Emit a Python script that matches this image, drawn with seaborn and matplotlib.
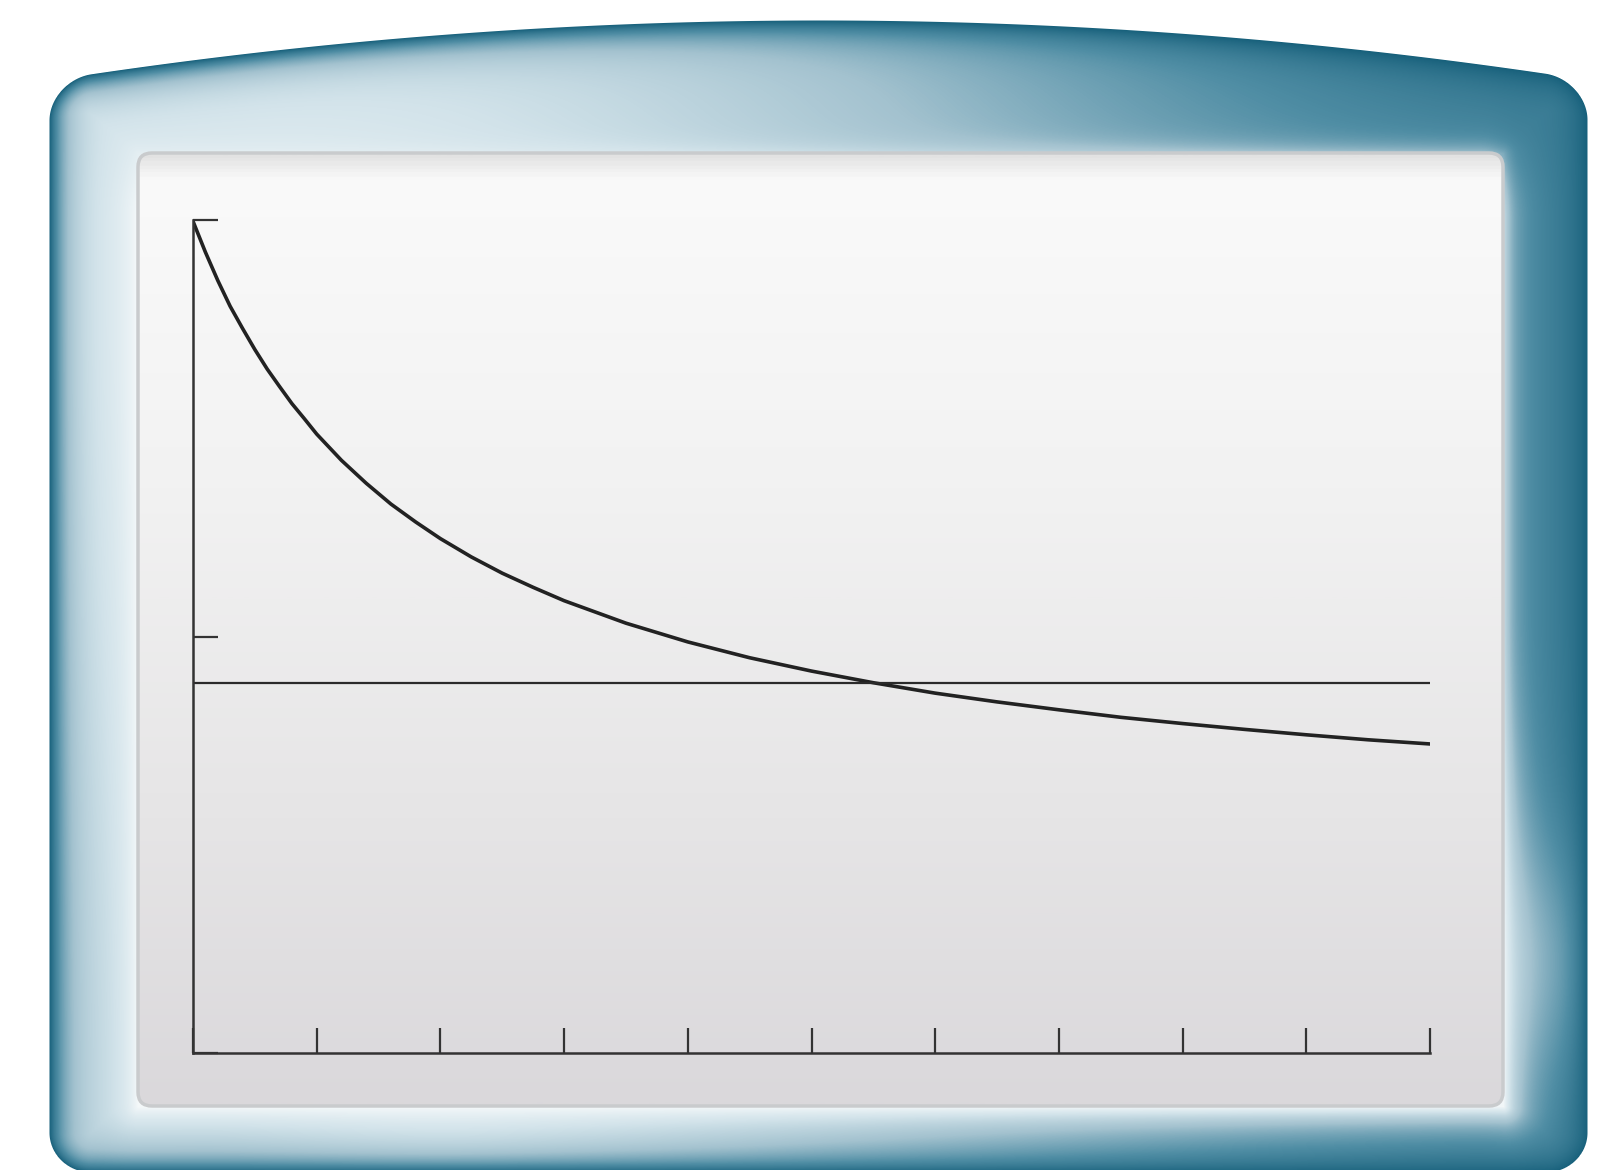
import numpy as np
import matplotlib
matplotlib.use('Agg')
import matplotlib.pyplot as plt
from matplotlib.colors import LinearSegmentedColormap
from matplotlib.patches import FancyBboxPatch
import seaborn as sns
import pandas as pd

sns.set_style('white')

# values (x window 0..10, y window 0..2)
curve_x = [0, 0.1, 0.2, 0.3, 0.4, 0.5, 0.6, 0.7, 0.8, 0.9, 1.0, 1.2, 1.4, 1.6,
           1.8, 2.0, 2.25, 2.5, 2.75, 3, 3.5, 4, 4.5, 5, 5.5, 6, 6.5, 7, 7.5,
           8, 8.5, 9, 9.5, 10]
curve_y = [1.997, 1.923, 1.855, 1.793, 1.740, 1.689, 1.642, 1.600, 1.559, 1.523,
           1.486, 1.423, 1.368, 1.318, 1.275, 1.235, 1.191, 1.152, 1.118, 1.086,
           1.032, 0.987, 0.949, 0.917, 0.889, 0.864, 0.843, 0.824, 0.806, 0.791,
           0.777, 0.764, 0.752, 0.742]
level_x = [0, 10]
level_y = [0.888, 0.888]
x_ticks = list(range(0, 11))
y_ticks = [0, 1, 2]

W, H = 1598, 1170
fig = plt.figure(figsize=(W / 100, H / 100), dpi=100)
fig.patch.set_facecolor('white')

# ---- calculator bezel (decoration) ----
bg = fig.add_axes([0, 0, 1, 1])
bg.set_xlim(0, W)
bg.set_ylim(H, 0)
bg.axis('off')

yy, xx = np.mgrid[0:H, 0:W].astype(float)
top = 20 + 60 * ((xx - 820) / 770) ** 2
bot = 1172.0
yw = yy - (top - 20) * (bot - yy) / (bot - top)
cx, cy = (49 + 1587) / 2, (20 + bot) / 2
bx, by, r = (1587 - 49) / 2, (bot - 20) / 2, 42
qx = np.abs(xx - cx) - bx + r
qy = np.abs(yw - cy) - by + r
sdf = np.hypot(np.maximum(qx, 0), np.maximum(qy, 0)) + np.minimum(np.maximum(qx, qy), 0) - r
alpha = np.clip(0.5 - sdf, 0, 1)
d_out = np.clip(-sdf, 0, None)


def smooth(v, a, b):
    t = np.clip((v - a) / (b - a), 0, 1)
    return t * t * (3 - 2 * t)


s_edge = 1 - np.exp(-d_out / 20)
pos = 0.8 - 0.62 * smooth(xx, 250, 1560)
pos = pos - 0.12 * smooth(yy, 300, 1100) * (1 - smooth(xx, 200, 500))
# lighter patch on the lower right side
pos = pos + 0.22 * smooth(xx, 1470, 1530) * np.exp(-((yy - 960) / 120) ** 2)
# glow around the screen
px0, px1, py0, py1 = 138, 1503, 153, 1106
dx = np.maximum(np.maximum(px0 - xx, xx - px1), 0)
dy = np.maximum(np.maximum(py0 - yy, yy - py1), 0)
d_in = np.hypot(dx, dy)
g = 0.2 + 0.75 * smooth(yy, 120, 220)
g = g * (1 - 0.55 * smooth(xx, 1480, 1520) * (1 - smooth(yy, 600, 1000)))
glow = g * np.exp(-d_in / 18)
s = 1 - (1 - s_edge * np.clip(pos, 0, 1)) * (1 - glow)

bezel_cmap = LinearSegmentedColormap.from_list(
    'bezel', ['#17607b', '#4f8da4', '#a3c2cf', '#d2e3ea', '#f7fafb'])
rgba = bezel_cmap(np.clip(s, 0, 1))
rgba[..., 3] = alpha
bg.imshow(rgba, extent=(0, W, H, 0), interpolation='bilinear', zorder=1)

# screen panel
panel = FancyBboxPatch((px0, py0), px1 - px0, py1 - py0,
                       boxstyle='round,pad=0,rounding_size=14',
                       facecolor='none', edgecolor='#c9cbcd', linewidth=2.5, zorder=3)
bg.add_patch(panel)
grad = np.linspace(0, 1, 600)[:, None]
panel_cmap = LinearSegmentedColormap.from_list(
    'panel', [(0, '#e2e2e2'), (0.025, '#fafafa'), (0.35, '#f2f2f2'),
              (0.7, '#e6e5e6'), (1, '#dad8db')])
img = bg.imshow(panel_cmap(grad), extent=(px0, px1, py1, py0), aspect='auto', zorder=2)
img.set_clip_path(panel)

# ---- the graph ----
ax = fig.add_axes([193 / W, (H - 1053) / H, (1430 - 193) / W, (1053 - 220) / H])
ax.set_facecolor('none')
ax.set_zorder(5)

curve = pd.DataFrame({'x': curve_x, 'y': curve_y})
level = pd.DataFrame({'x': level_x, 'y': level_y})
sns.lineplot(data=curve, x='x', y='y', ax=ax, color='#222222', linewidth=2.6,
             estimator=None, solid_joinstyle='round', solid_capstyle='round')
sns.lineplot(data=level, x='x', y='y', ax=ax, color='#2a2a2a', linewidth=1.6,
             estimator=None)

ax.set_xlim(0, 10)
ax.set_ylim(0, 2)
ax.set_xticks(x_ticks)
ax.set_yticks(y_ticks)
ax.set_xticklabels([])
ax.set_yticklabels([])
ax.set_xlabel('')
ax.set_ylabel('')
for side in ['top', 'right']:
    ax.spines[side].set_visible(False)
for side in ['left', 'bottom']:
    ax.spines[side].set_color('#333333')
    ax.spines[side].set_linewidth(1.8)
ax.tick_params(bottom=True, left=True, direction='in', length=18, width=1.6,
               color='#333333')
ax.grid(False)

fig.savefig('out.png', dpi=100, facecolor='white')
